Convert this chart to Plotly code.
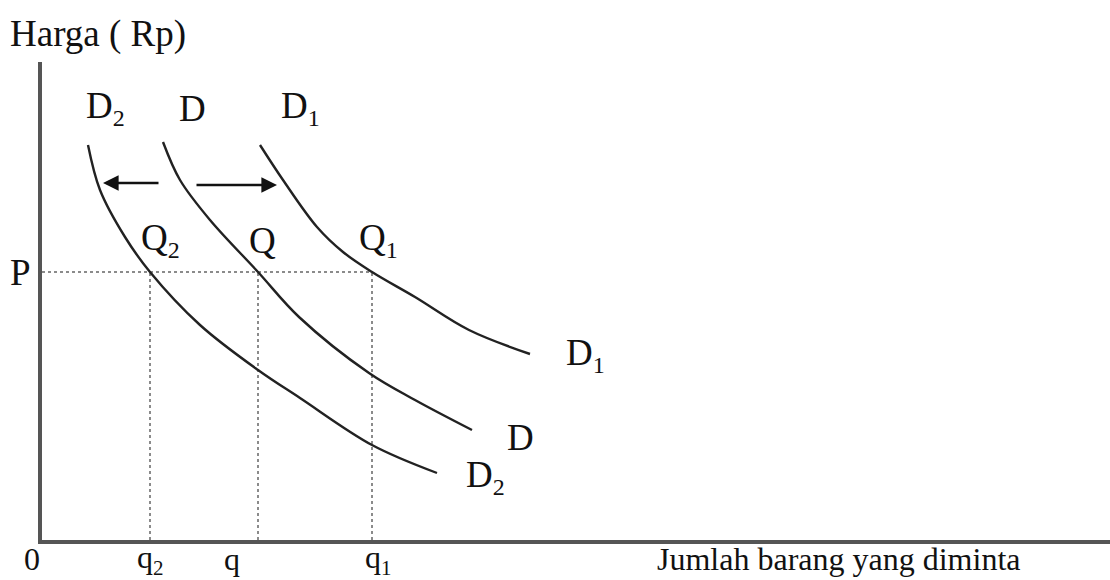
import plotly.graph_objects as go

# demand curves (x = quantity, y = price, in axis units)
d2_x = [46, 58, 83, 108, 158, 216, 258, 330, 395]
d2_y = [395, 350, 303, 268, 215, 170, 142, 95, 67]

d_x = [121, 138, 168, 216, 257, 327, 373, 430]
d_y = [398, 360, 320, 268, 223, 167, 140, 110]

d1_x = [218, 241, 275, 301, 330, 373, 427, 488]
d1_y = [395, 360, 313, 288, 268, 243, 210, 186]

price_p = 268
q_vals = [108, 216, 330]          # q2, q, q1
q_subs = ["2", "", "1"]
q_shift = [0, -26, 6]

ink = "#111111"
serif = "Liberation Serif"
fsize = 37


def sub(base, s, size):
    # smaller subscript, closer to the textbook look
    if not s:
        return base
    return f"{base}<sub><span style='font-size:{size}px'>{s}</span></sub>"


fig = go.Figure()

# dotted guide lines at price P
fig.add_trace(go.Scatter(x=[0, q_vals[2]], y=[price_p, price_p], mode="lines",
                         line=dict(color="#666", width=1.5, dash="dot"), hoverinfo="skip"))
for qv in q_vals:
    fig.add_trace(go.Scatter(x=[qv, qv], y=[0, price_p], mode="lines",
                             line=dict(color="#666", width=1.5, dash="dot"), hoverinfo="skip"))

for xs, ys in [(d2_x, d2_y), (d_x, d_y), (d1_x, d1_y)]:
    fig.add_trace(go.Scatter(x=xs, y=ys, mode="lines", line_shape="spline",
                             line=dict(color="#222", width=2.4), hoverinfo="skip"))

lab = dict(font=dict(family=serif, size=fsize, color=ink), showarrow=False)

# curve labels at the top
fig.add_annotation(x=63, y=432, text=sub("D", "2", 24), **lab)
fig.add_annotation(x=150, y=432, text="D", **lab)
fig.add_annotation(x=258, y=432, text=sub("D", "1", 24), **lab)
# intersection labels
fig.add_annotation(x=118, y=300, text=sub("Q", "2", 24), **lab)
fig.add_annotation(x=220, y=300, text="Q", **lab)
fig.add_annotation(x=336, y=300, text=sub("Q", "1", 24), **lab)
# curve labels at the ends
fig.add_annotation(x=543, y=185, text=sub("D", "1", 24), **lab)
fig.add_annotation(x=478, y=103, text="D", **lab)
fig.add_annotation(x=443, y=63, text=sub("D", "2", 24), **lab)

# quantity labels under the axis
blab = dict(font=dict(family=serif, size=32, color=ink), showarrow=False)
under = dict(yref="paper", y=0, yanchor="middle", yshift=-19)
fig.add_annotation(x=0, xshift=-10, text="0", **under, **blab)
for qv, qs, sh in zip(q_vals, q_subs, q_shift):
    fig.add_annotation(x=qv, xshift=sh, text=sub("q", qs, 21), **under, **blab)

fig.add_annotation(x=796, text="Jumlah barang yang diminta", **under, **blab)
fig.add_annotation(xref="paper", x=0, xshift=-34, xanchor="left",
                   yref="paper", y=1, yanchor="middle", yshift=28,
                   text="Harga ( Rp)", **lab)

# shift arrows
arr = dict(xref="x", yref="y", axref="x", ayref="y", text="", showarrow=True,
           arrowhead=2, arrowsize=1.3, arrowwidth=2.4, arrowcolor="#111")
fig.add_annotation(x=61, y=357, ax=118, ay=357, **arr)
fig.add_annotation(x=235, y=355, ax=153, ay=355, **arr)

fig.update_layout(
    width=1110, height=580,
    margin=dict(l=42, r=0, t=62, b=40),
    paper_bgcolor="white", plot_bgcolor="white",
    showlegend=False,
    xaxis=dict(range=[0, 1068], showgrid=False, zeroline=False, showticklabels=False,
               showline=True, linecolor="#555", linewidth=4, ticks=""),
    yaxis=dict(range=[0, 478], showgrid=False, zeroline=False,
               tickvals=[price_p], ticktext=["P"], ticks="",
               tickfont=dict(family=serif, size=fsize, color=ink),
               showline=True, linecolor="#555", linewidth=4),
)

fig.write_html("out.html", config={"displayModeBar": False},
               post_script="document.body.style.margin='0';")
